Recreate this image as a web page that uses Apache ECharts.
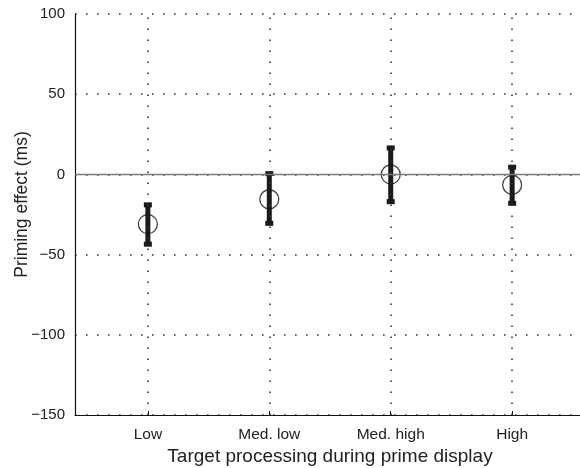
<!DOCTYPE html>
<html>
<head>
<meta charset="utf-8">
<script src="https://cdn.jsdelivr.net/npm/echarts@6/dist/echarts.min.js"></script>
<style>html,body{margin:0;padding:0;background:#fff;}#c{width:580px;height:468px;}</style>
</head>
<body>
<div id="c"></div>
<script>
var categories = ['Low', 'Med. low', 'Med. high', 'High'];
var means = [-31, -15.5, 0, -6.5];
var upper = [-19, 0.5, 16.5, 4.5];
var lower = [-43.5, -30.5, -17, -18];
var yTicks = [-150, -100, -50, 0, 50, 100];

var FONT = '"Liberation Sans", Arial, Helvetica, sans-serif';
var positions = categories.map(function (c, i) { return i + 1; });

var chart = echarts.init(document.getElementById('c'), null, {renderer: 'canvas'});
var dotted = {color: '#333', width: 1.6, type: [1.6, 9.4]};

chart.setOption({
  animation: false,
  backgroundColor: '#fff',
  grid: {left: 75, top: 14, width: 510, height: 401, containLabel: false, outerBoundsMode: 'none'},
  xAxis: {
    type: 'value', min: 0.4, max: 4.6,
    name: 'Target processing during prime display',
    nameLocation: 'middle', nameGap: 32, nameMoveOverlap: false,
    nameTextStyle: {fontFamily: FONT, fontSize: 19, color: '#222'},
    axisLine: {show: true, onZero: false, lineStyle: {color: '#111', width: 1.2}},
    axisTick: {show: true, inside: true, length: 4, customValues: positions, lineStyle: {color: '#111'}},
    axisLabel: {
      customValues: positions, margin: 12,
      fontFamily: FONT, fontSize: 15.5, color: '#222',
      formatter: function (v) { return categories[Math.round(v) - 1] || ''; }
    },
    splitLine: {show: false}
  },
  yAxis: {
    type: 'value', min: yTicks[0], max: yTicks[yTicks.length - 1], interval: 50,
    name: 'Priming effect (ms)',
    nameLocation: 'middle', nameGap: 44, nameMoveOverlap: false,
    nameTextStyle: {fontFamily: FONT, fontSize: 17.5, color: '#222', padding: [0, 0, 0, 20]},
    axisLine: {show: true, lineStyle: {color: '#111', width: 1.2}},
    axisTick: {show: false},
    axisLabel: {
      margin: 10, fontFamily: FONT, fontSize: 15, color: '#222',
      formatter: function (v) { return v < 0 ? '\u2212' + Math.abs(v) : String(v); }
    },
    splitLine: {show: true, lineStyle: dotted}
  },
  series: [
    {
      type: 'line', data: [], silent: true,
      markLine: {
        silent: true, symbol: 'none', label: {show: false},
        lineStyle: dotted,
        data: positions.map(function (p) { return {xAxis: p}; })
      }
    },
    {
      type: 'line', data: [], silent: true,
      markLine: {
        silent: true, symbol: 'none', label: {show: false},
        lineStyle: {color: '#7a7a7a', width: 1.3, type: 'solid'},
        data: [{yAxis: 0}]
      }
    },
    {
      type: 'custom',
      data: positions.map(function (p, i) { return [p, lower[i], upper[i]]; }),
      renderItem: function (params, api) {
        var x = api.value(0);
        var lo = api.coord([x, api.value(1)]);
        var hi = api.coord([x, api.value(2)]);
        var bw = 5, cw = 8, ch = 5;
        return {
          type: 'group',
          children: [
            {type: 'rect', shape: {x: lo[0] - bw / 2, y: hi[1], width: bw, height: lo[1] - hi[1]}, style: {fill: '#1a1a1a'}},
            {type: 'rect', shape: {x: hi[0] - cw / 2, y: hi[1] - ch / 2, width: cw, height: ch}, style: {fill: '#1a1a1a'}},
            {type: 'rect', shape: {x: lo[0] - cw / 2, y: lo[1] - ch / 2, width: cw, height: ch}, style: {fill: '#1a1a1a'}}
          ]
        };
      },
      z: 3
    },
    {
      type: 'scatter',
      data: positions.map(function (p, i) { return [p, means[i]]; }),
      symbol: 'circle', symbolSize: 19,
      itemStyle: {color: 'rgba(0,0,0,0)', borderColor: '#111', borderWidth: 1.3},
      z: 4
    }
  ]
});
</script>
</body>
</html>
